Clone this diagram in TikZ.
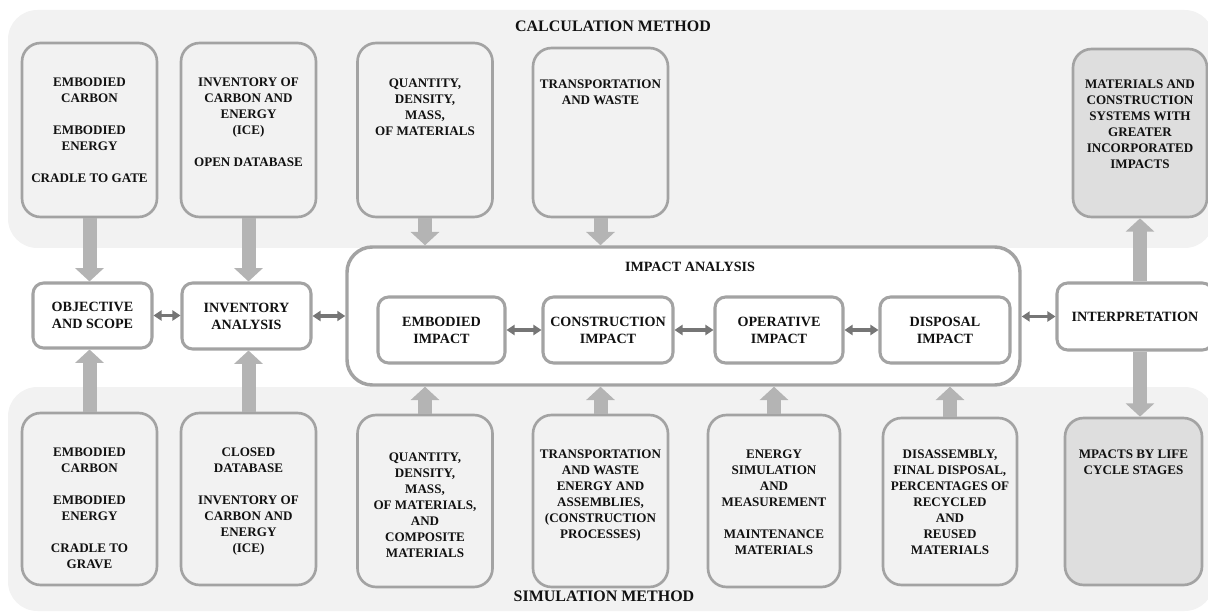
\documentclass[tikz,border=0pt]{standalone}
\usepackage{fontspec}
\setmainfont{Liberation Serif}
\usepackage{tikz}
\usetikzlibrary{arrows.meta}
\definecolor{bandgray}{HTML}{F2F2F2}
\definecolor{boxgray}{HTML}{A3A3A3}
\definecolor{resgray}{HTML}{DEDEDE}
\definecolor{feedgray}{HTML}{B4B4B4}
\definecolor{linkgray}{HTML}{767676}
\definecolor{inkgray}{HTML}{111111}

\begin{document}
\begin{tikzpicture}[x=0.75pt,y=-0.75pt,
  band/.style={fill=bandgray,rounded corners=22pt},
  srcbox/.style={draw=boxgray,line width=2pt,fill=bandgray,rounded corners=14pt,minimum width=101.25pt,minimum height=130.5pt,inner sep=0pt},
  resbox/.style={srcbox,fill=resgray},
  boxtext/.style={anchor=north,align=center,inner sep=0pt,text=inkgray,font=\fontsize{9.8}{12}\selectfont\bfseries},
  stagebox/.style={draw=boxgray,line width=2.3pt,fill=white,rounded corners=8pt,align=center,text=inkgray,minimum height=49.5pt,font=\fontsize{10.6}{12.8}\selectfont\bfseries},
  headtext/.style={text=inkgray,font=\fontsize{12}{14}\selectfont\bfseries},
  feed/.style={draw=feedgray,line width=10.5pt,-{Triangle[length=10pt,width=21pt]}},
  link/.style={draw=linkgray,line width=2.4pt,{Triangle[length=6pt,width=7.5pt]}-{Triangle[length=6pt,width=7.5pt]}}]
  \useasboundingbox (0,0) rectangle (1208,613);
  \fill[band] (8,10) rectangle (1214,248);
  \fill[band] (8,387) rectangle (1214,611);
  \node[headtext] (calchead) at (613,26) {CALCULATION METHOD};
  \node[headtext] (simhead) at (604,596) {SIMULATION METHOD};

  \node[srcbox] (calcA) at (89.5,130) {};
  \node[srcbox] (calcB) at (248.5,130) {};
  \node[srcbox] (calcC) at (425,130) {};
  \node[srcbox,minimum height=126.75pt] (calcD) at (600.5,132.5) {};
  \node[resbox,minimum width=100.5pt,minimum height=126pt] (greater) at (1140,133) {};
  \node[boxtext] (calcAtxt) at ([yshift=-26.6pt]calcA.north) {EMBODIED\\CARBON\\[12pt]EMBODIED\\ENERGY\\[12pt]CRADLE TO GATE};
  \node[boxtext] (calcBtxt) at ([yshift=-26.6pt]calcB.north) {INVENTORY OF\\CARBON AND\\ENERGY\\(ICE)\\[12pt]OPEN DATABASE};
  \node[boxtext] (calcCtxt) at ([yshift=-28pt]calcC.north) {QUANTITY,\\DENSITY,\\MASS,\\OF MATERIALS};
  \node[boxtext] (calcDtxt) at ([yshift=-24.4pt]calcD.north) {TRANSPORTATION\\AND WASTE};
  \node[boxtext] (greatertxt) at ([yshift=-23.6pt]greater.north) {MATERIALS AND\\CONSTRUCTION\\SYSTEMS WITH\\GREATER\\INCORPORATED\\IMPACTS};

  \node[stagebox,minimum width=89.25pt,minimum height=48.75pt] (objective) at (92.5,315.5) {OBJECTIVE\\AND SCOPE};
  \node[stagebox,minimum width=96.75pt] (inventory) at (246.5,316) {INVENTORY\\ANALYSIS};
  \node[draw=boxgray,line width=2.6pt,fill=white,rounded corners=19pt,minimum width=504.75pt,minimum height=103.5pt] (impact) at (683.5,316) {};
  \node[text=inkgray,font=\fontsize{10.6}{12.8}\selectfont\bfseries] (impacthead) at (690,267) {IMPACT ANALYSIS};
  \node[stagebox,minimum width=95.25pt] (embodied) at (441.5,330) {EMBODIED\\IMPACT};
  \node[stagebox,minimum width=97.5pt] (construction) at (608,330) {CONSTRUCTION\\IMPACT};
  \node[stagebox,minimum width=96pt] (operative) at (779,330) {OPERATIVE\\IMPACT};
  \node[stagebox,minimum width=97.5pt] (disposal) at (945,330) {DISPOSAL\\IMPACT};
  \node[stagebox,minimum width=117pt,minimum height=50.25pt] (interp) at (1135,316.5) {INTERPRETATION};

  \node[srcbox,minimum height=129pt] (simA) at (89.5,499) {};
  \node[srcbox,minimum height=129pt] (simB) at (248.5,499) {};
  \node[srcbox,minimum height=129pt] (simC) at (425,501) {};
  \node[srcbox,minimum height=129pt] (simD) at (600.5,501) {};
  \node[srcbox,minimum width=99pt,minimum height=129pt] (simE) at (774,501) {};
  \node[srcbox,minimum width=100.5pt,minimum height=125.25pt] (simF) at (950,501.5) {};
  \node[resbox,minimum width=102.75pt,minimum height=125.25pt] (stages) at (1133.5,501.5) {};
  \node[boxtext] (simAtxt) at ([yshift=-26.6pt]simA.north) {EMBODIED\\CARBON\\[12pt]EMBODIED\\ENERGY\\[12pt]CRADLE TO\\GRAVE};
  \node[boxtext] (simBtxt) at ([yshift=-26.6pt]simB.north) {CLOSED\\DATABASE\\[12pt]INVENTORY OF\\CARBON AND\\ENERGY\\(ICE)};
  \node[boxtext] (simCtxt) at ([yshift=-29pt]simC.north) {QUANTITY,\\DENSITY,\\MASS,\\OF MATERIALS,\\AND\\COMPOSITE\\MATERIALS};
  \node[boxtext] (simDtxt) at ([yshift=-26.6pt]simD.north) {TRANSPORTATION\\AND WASTE\\ENERGY AND\\ASSEMBLIES,\\(CONSTRUCTION\\PROCESSES)};
  \node[boxtext] (simEtxt) at ([yshift=-26.6pt]simE.north) {ENERGY\\SIMULATION\\AND\\MEASUREMENT\\[12pt]MAINTENANCE\\MATERIALS};
  \node[boxtext] (simFtxt) at ([yshift=-24.4pt]simF.north) {DISASSEMBLY,\\FINAL DISPOSAL,\\PERCENTAGES OF\\RECYCLED\\AND\\REUSED\\MATERIALS};
  \node[boxtext] (stagestxt) at ([yshift=-24.4pt]stages.north) {MPACTS BY LIFE\\CYCLE STAGES};

  \draw[feed] (calcA.south) -- (calcA.south |- objective.north);
  \draw[feed] (calcB.south) -- (calcB.south |- inventory.north);
  \draw[feed] (calcC.south) -- (calcC.south |- impact.north);
  \draw[feed] (calcD.south) -- (calcD.south |- impact.north);
  \draw[feed] (greater.south |- interp.north) -- (greater.south);
  \draw[feed] (simA.north) -- (simA.north |- objective.south);
  \draw[feed] (simB.north) -- (simB.north |- inventory.south);
  \draw[feed] (simC.north) -- (simC.north |- impact.south);
  \draw[feed] (simD.north) -- (simD.north |- impact.south);
  \draw[feed] (simE.north) -- (simE.north |- impact.south);
  \draw[feed] (simF.north) -- (simF.north |- impact.south);
  \draw[feed] (greater.south |- interp.south) -- (greater.south |- stages.north);

  \draw[link] (objective.east) -- (objective.east -| inventory.west);
  \draw[link] (inventory.east) -- (inventory.east -| impact.west);
  \draw[link] (embodied) -- (construction);
  \draw[link] (construction) -- (operative);
  \draw[link] (operative) -- (disposal);
  \draw[link] (impact.east |- interp.west) -- (interp.west);
\end{tikzpicture}
\end{document}
